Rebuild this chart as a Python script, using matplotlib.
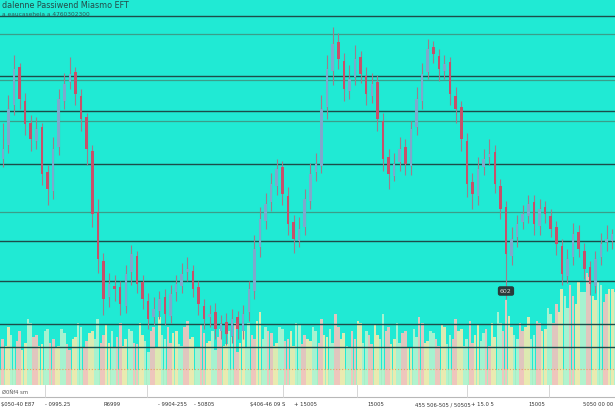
import matplotlib
matplotlib.use("Agg")
import matplotlib.pyplot as plt

title = "dalenne Passiwend Miasmo EFT"
subtitle = "a eaucaseheia a 4760302300"
volume_label = "Ø0Ñf4 sm"
marker_label = "602"
marker_index = 90
marker_price = 94

opens = [226, 240, 280, 318, 284, 262, 244, 258, 213, 194,
         238, 284, 303, 313, 289, 268, 234, 173, 124, 88,
         99, 98, 79, 113, 129, 103, 84, 68, 74, 88,
         69, 93, 99, 113, 114, 98, 79, 68, 73, 54,
         63, 49, 68, 54, 73, 94, 138, 164, 183, 199,
         218, 189, 163, 144, 158, 184, 213, 219, 278, 314,
         343, 324, 294, 308, 328, 309, 289, 303, 264, 228,
         209, 223, 238, 219, 258, 284, 313, 338, 329, 314,
         323, 289, 278, 244, 203, 189, 218, 228, 233, 199,
         178, 129, 148, 163, 169, 183, 159, 178, 169, 158,
         139, 109, 128, 153, 134, 118, 99, 128, 143, 144]
closes = [236, 276, 316, 286, 261, 246, 256, 211, 196, 236,
          286, 301, 311, 291, 266, 236, 171, 126, 86, 101,
          96, 81, 111, 131, 101, 86, 66, 76, 86, 71,
          91, 101, 111, 116, 96, 81, 66, 71, 56, 61,
          51, 66, 56, 71, 96, 136, 166, 181, 201, 216,
          191, 161, 146, 156, 186, 211, 221, 276, 316, 341,
          326, 296, 306, 326, 311, 291, 301, 266, 226, 211,
          221, 236, 221, 256, 286, 311, 336, 331, 316, 321,
          291, 276, 246, 201, 191, 216, 226, 231, 201, 176,
          131, 146, 161, 171, 181, 161, 176, 171, 156, 141,
          111, 126, 151, 136, 116, 101, 126, 141, 146, 151]
highs = [262, 290, 330, 322, 292, 270, 268, 262, 220, 248,
         296, 312, 328, 318, 296, 272, 240, 186, 132, 112,
         110, 104, 120, 140, 134, 110, 92, 88, 94, 96,
         100, 110, 122, 128, 120, 104, 86, 80, 82, 70,
         72, 76, 74, 80, 104, 150, 178, 192, 212, 226,
         224, 198, 170, 168, 196, 222, 232, 290, 330, 358,
         352, 332, 320, 340, 334, 318, 312, 310, 272, 236,
         232, 248, 246, 264, 298, 322, 346, 344, 336, 330,
         328, 298, 284, 252, 212, 228, 236, 246, 240, 206,
         184, 158, 170, 180, 190, 190, 186, 184, 176, 164,
         146, 136, 162, 160, 142, 124, 134, 152, 160, 156]
lows = [218, 232, 270, 276, 250, 234, 236, 200, 180, 186,
        230, 276, 296, 280, 254, 220, 158, 112, 70, 78,
        84, 70, 72, 100, 92, 76, 56, 60, 66, 60,
        62, 84, 92, 104, 88, 70, 56, 58, 46, 46,
        40, 42, 46, 46, 64, 86, 128, 156, 174, 190,
        180, 150, 132, 138, 150, 176, 204, 212, 266, 300,
        316, 284, 286, 300, 302, 280, 282, 254, 214, 196,
        204, 214, 210, 210, 250, 276, 306, 322, 304, 306,
        280, 262, 234, 188, 176, 180, 210, 220, 192, 166,
        86, 120, 138, 156, 162, 150, 150, 162, 148, 130,
        100, 102, 120, 128, 106, 90, 92, 120, 134, 136]
volumes = [120, 150, 95, 140, 110, 160, 130, 105, 145, 120,
           100, 135, 90, 125, 150, 115, 140, 170, 130, 110,
           95, 160, 120, 140, 105, 130, 85, 150, 175, 120,
           110, 140, 100, 165, 125, 95, 135, 115, 90, 145,
           105, 125, 85, 140, 160, 120, 190, 150, 135, 110,
           145, 120, 100, 155, 130, 115, 140, 170, 125, 110,
           150, 135, 95, 120, 160, 140, 105, 130, 185, 150,
           120, 110, 140, 95, 125, 160, 115, 135, 100, 150,
           130, 170, 145, 120, 110, 155, 135, 100, 125, 160,
           220, 150, 120, 140, 175, 130, 160, 145, 185, 210,
           250, 200, 230, 270, 240, 280, 220, 260, 235, 250]
volumes_mid = [100, 130, 115, 90, 170, 125, 100, 140, 110, 95,
               145, 105, 120, 160, 95, 135, 120, 110, 155, 140,
               125, 100, 145, 110, 160, 115, 140, 95, 130, 150,
               135, 105, 150, 120, 95, 155, 110, 140, 125, 100,
               140, 160, 110, 95, 130, 165, 120, 140, 100, 150,
               115, 140, 160, 105, 120, 150, 110, 130, 145, 185,
               120, 100, 140, 165, 110, 130, 155, 120, 140, 105,
               160, 135, 95, 145, 175, 110, 140, 120, 155, 105,
               120, 140, 100, 165, 130, 115, 145, 160, 190, 140,
               180, 130, 160, 150, 120, 165, 140, 200, 160, 190,
               230, 260, 210, 240, 290, 230, 270, 215, 250, 240]

dark_levels = [369, 309, 274, 221, 144, 104, 61, 38]
light_levels = [351, 305, 264, 173]
base_level = 16

bottom_labels = ["$050-40 E87", "- 0995.25", "R6999", "- 9904-255", "- 50805",
                 "$406-46 09 S", "+ 15005", "15005", "455 506-505 / 50505",
                 "+ 15.0 5", "15005", "5050 00 00"]
bottom_label_x = [18, 58, 112, 172, 204, 268, 305, 376, 443, 482, 537, 598]
separator_x = [45, 147, 283, 357, 467, 549]

W, H = 615, 410
cyan = "#20eAd4"

fig = plt.figure(figsize=(W / 100, H / 100), dpi=100)
fig.patch.set_facecolor("white")

ax = fig.add_axes([0, 24 / H, 1, 386 / H])
ax2 = ax.twinx()
ax2.set_zorder(1)
ax.set_zorder(2)
ax.patch.set_visible(False)
ax2.patch.set_visible(True)
ax2.patch.set_facecolor(cyan)

n = len(closes)
xs = list(range(n))
xs_mid = [x + 0.5 for x in xs]

# volume
vol_colors = ["#f6c2bc", "#f2eaae", "#b4f4d0"]
ax2.axhspan(0, 40, color="#d6f2c0", alpha=0.75, lw=0, zorder=0)
ax2.bar(xs, volumes, width=0.5,
        color=[vol_colors[i % 3] for i in xs], alpha=0.9, linewidth=0, zorder=1)
ax2.bar(xs_mid, volumes_mid, width=0.38,
        color=[vol_colors[(i + 1) % 3] for i in xs], alpha=0.9, linewidth=0, zorder=1)
ax2.set_ylim(0, 1000)

# levels
for lv in dark_levels:
    ax.axhline(lv, color="#1c4d4a", lw=1.0, zorder=1)
for lv in light_levels:
    ax.axhline(lv, color="#3a9e8a", lw=0.9, zorder=1)
ax.axhline(base_level, color="#f0a060", lw=0.8, ls=":", zorder=1)

# candles
up_c, dn_c = "#7fa8cc", "#c8506a"
ax.vlines(xs, lows, highs, color="#a07c8a", lw=0.8, zorder=3)
bottoms = [min(o, c) for o, c in zip(opens, closes)]
heights = [max(abs(c - o), 1.5) for o, c in zip(opens, closes)]
cols = [up_c if c >= o else dn_c for o, c in zip(opens, closes)]
ax.bar(xs, heights, bottom=bottoms, width=0.45, color=cols, linewidth=0, zorder=4)

ax.text(marker_index, marker_price, marker_label, fontsize=4.5, color="#d8d8d8",
        ha="center", va="center", zorder=6,
        bbox=dict(boxstyle="round,pad=0.25", fc="#2a3a3a", ec="#2a3a3a"))

ax.set_xlim(-0.5, n - 0.5)
ax.set_ylim(0, 386)
for a in (ax, ax2):
    a.set_xticks([])
    a.set_yticks([])
    for s in a.spines.values():
        s.set_visible(False)

ax.text(0.003, 1 - 5 / 386, title, transform=ax.transAxes,
        fontsize=5.8, color="#244a48", ha="left", va="center")
ax.text(0.003, 1 - 14 / 386, subtitle, transform=ax.transAxes,
        fontsize=4.2, color="#2d5a56", ha="left", va="center")

# bottom strip
fig.add_artist(plt.Line2D([0, 1], [1 - 398 / H] * 2, color="#b8b8b8", lw=0.8))
for sx in separator_x:
    fig.add_artist(plt.Line2D([sx / W] * 2, [1 - 386 / H, 1 - 398 / H],
                              color="#d0d0d0", lw=0.6))
fig.text(2 / W, 1 - 392 / H, volume_label, fontsize=3.8, color="#555555",
         ha="left", va="center")
for lbl, bx in zip(bottom_labels, bottom_label_x):
    fig.text(bx / W, 1 - 405 / H, lbl, fontsize=3.8, color="#333333",
             ha="center", va="center")

fig.savefig("out.png", dpi=100, facecolor="white")
